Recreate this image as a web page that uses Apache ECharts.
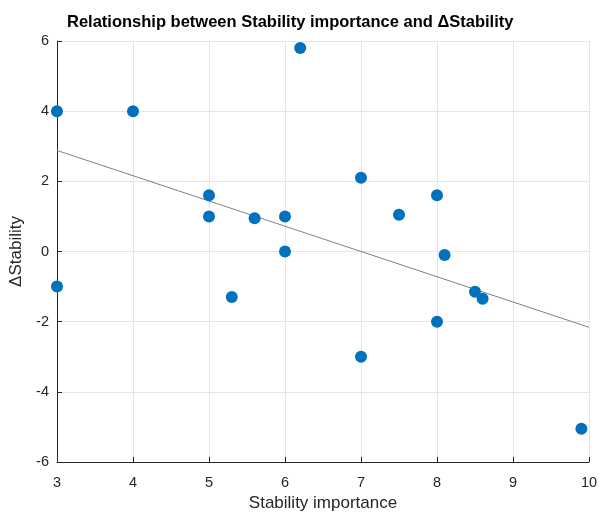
<!DOCTYPE html>
<html><head><meta charset="utf-8">
<script src="https://cdn.jsdelivr.net/npm/echarts@6/dist/echarts.min.js"></script>
<style>html,body{margin:0;padding:0;background:#fff}#c{width:599px;height:513px}</style>
</head><body><div id="c"></div>
<script>
const importance = [3, 3, 4, 5, 5, 5.3, 5.6, 6, 6, 6.2, 7, 7, 7.5, 8, 8.1, 8.5, 8.6, 8, 9.9];
const deltaStability = [4, -1, 4, 1.6, 1, -1.3, 0.95, 1, 0, 5.8, 2.1, -3, 1.05, 1.6, -0.1, -1.15, -1.35, -2, -5.05];
const fitX = [3, 10];
const fitY = [2.88, -2.16];
const xTicks = [3, 4, 5, 6, 7, 8, 9, 10];
const yTicks = [-6, -4, -2, 0, 2, 4, 6];

const points = importance.map((x, i) => [x, deltaStability[i]]);
const fitLine = fitX.map((x, i) => [x, fitY[i]]);
const font = 'Liberation Sans, Arial, sans-serif';
const chart = echarts.init(document.getElementById('c'), null, {renderer: 'canvas'});
chart.setOption({
  animation: false,
  title: {
    text: 'Relationship between Stability importance and ΔStability',
    left: 62, top: 9,
    textStyle: {fontFamily: font, fontSize: 16.5, fontWeight: 'bold', color: '#000'}
  },
  grid: {left: 57, right: 10, top: 41, bottom: 51, containLabel: false, outerBoundsMode: 'none'},
  xAxis: {
    type: 'value', min: xTicks[0], max: xTicks[xTicks.length - 1], interval: 1,
    name: 'Stability importance', nameLocation: 'middle', nameGap: 33,
    nameTextStyle: {fontFamily: font, fontSize: 17, color: '#262626'},
    axisLine: {show: true, onZero: false, lineStyle: {color: '#262626', width: 1}},
    axisTick: {show: true, inside: true, length: 5, lineStyle: {color: '#262626'}},
    axisLabel: {fontFamily: font, fontSize: 14.5, color: '#262626', margin: 13},
    splitLine: {show: true, lineStyle: {color: '#e5e5e5', width: 1}}
  },
  yAxis: {
    type: 'value', min: yTicks[0], max: yTicks[yTicks.length - 1], interval: 2,
    name: 'ΔStability', nameLocation: 'middle', nameGap: 30, nameRotate: 90,
    nameTextStyle: {fontFamily: font, fontSize: 17, color: '#262626'},
    axisLine: {show: true, onZero: false, lineStyle: {color: '#262626', width: 1}},
    axisTick: {show: true, inside: true, length: 5, lineStyle: {color: '#262626'}},
    axisLabel: {fontFamily: font, fontSize: 14.5, color: '#262626', margin: 8},
    splitLine: {show: true, lineStyle: {color: '#e5e5e5', width: 1}}
  },
  series: [
    {
      type: 'line', data: fitLine, symbol: 'none', silent: true, z: 3,
      lineStyle: {color: '#808080', width: 1}
    },
    {
      type: 'scatter', data: points, symbol: 'circle', symbolSize: 12, z: 4,
      itemStyle: {color: '#0072BD', opacity: 1}
    }
  ]
});
</script></body></html>
